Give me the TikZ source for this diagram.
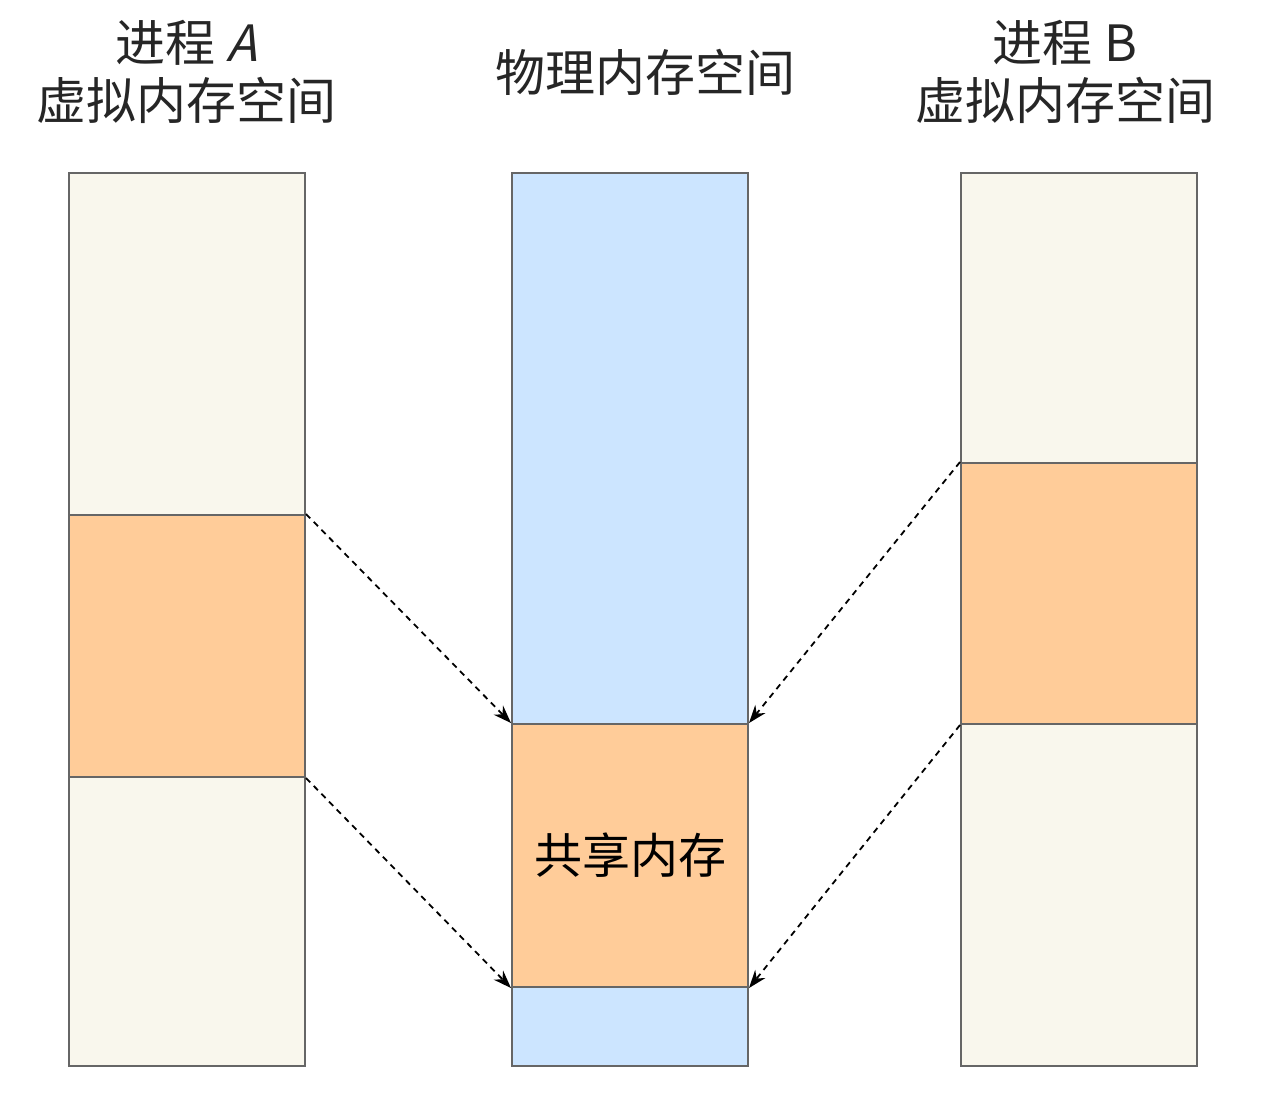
\documentclass[tikz,border=0pt]{standalone}
\usepackage{fontspec}
\setmainfont{Noto Sans CJK SC}
\usetikzlibrary{arrows.meta}
\definecolor{creamfill}{HTML}{F9F7ED}
\definecolor{sharedorange}{HTML}{FFCC99}
\definecolor{physblue}{HTML}{CCE5FF}
\newcommand{\slantA}{{\addfontfeature{FakeSlant=0.25}A}}
\begin{document}
\begin{tikzpicture}[x=1pt, y=-1pt,
        % blocks are sized in pixel units of the reference
        blk/.style={rectangle, draw=black!60, line width=2pt, fill=#1,
            inner sep=0pt, minimum width=236pt, anchor=north west},
        title/.style={font=\fontsize{50}{58}\selectfont, align=center, text=black!85},
        map/.style={-{Stealth[length=18pt,width=13pt]}, line width=1.8pt, dash pattern=on 6pt off 5pt}
    ]
        \useasboundingbox (0,0) rectangle (1281,1096);
        \fill[white] (0,0) rectangle (1281,1096);

        % titles
        \node[title] (ta) at (186,72) {进程 \slantA\\虚拟内存空间};
        \node[title] (tm) at (645,72) {物理内存空间};
        \node[title] (tb) at (1065,72) {进程 B\\虚拟内存空间};

        % process A
        \node[blk=creamfill, minimum height=342pt] (a1) at (68,172) {};
        \node[blk=sharedorange, minimum height=262pt] (a2) at (68,514) {};
        \node[blk=creamfill, minimum height=289pt] (a3) at (68,776) {};

        % physical memory
        \node[blk=physblue, minimum height=551pt] (m1) at (511,172) {};
        \node[blk=sharedorange, minimum height=263pt, font=\fontsize{48}{56}\selectfont] (m2) at (511,723) {共享内存};
        \node[blk=physblue, minimum height=79pt] (m3) at (511,986) {};

        % process B
        \node[blk=creamfill, minimum height=290pt] (b1) at (960,172) {};
        \node[blk=sharedorange, minimum height=261pt] (b2) at (960,462) {};
        \node[blk=creamfill, minimum height=342pt] (b3) at (960,723) {};

        % mappings
        \draw[map] (a2.north east) -- (m2.north west);
        \draw[map] (a2.south east) -- (m2.south west);
        \draw[map] (b2.north west) -- (m2.north east);
        \draw[map] (b2.south west) -- (m2.south east);
    \end{tikzpicture}
\end{document}
